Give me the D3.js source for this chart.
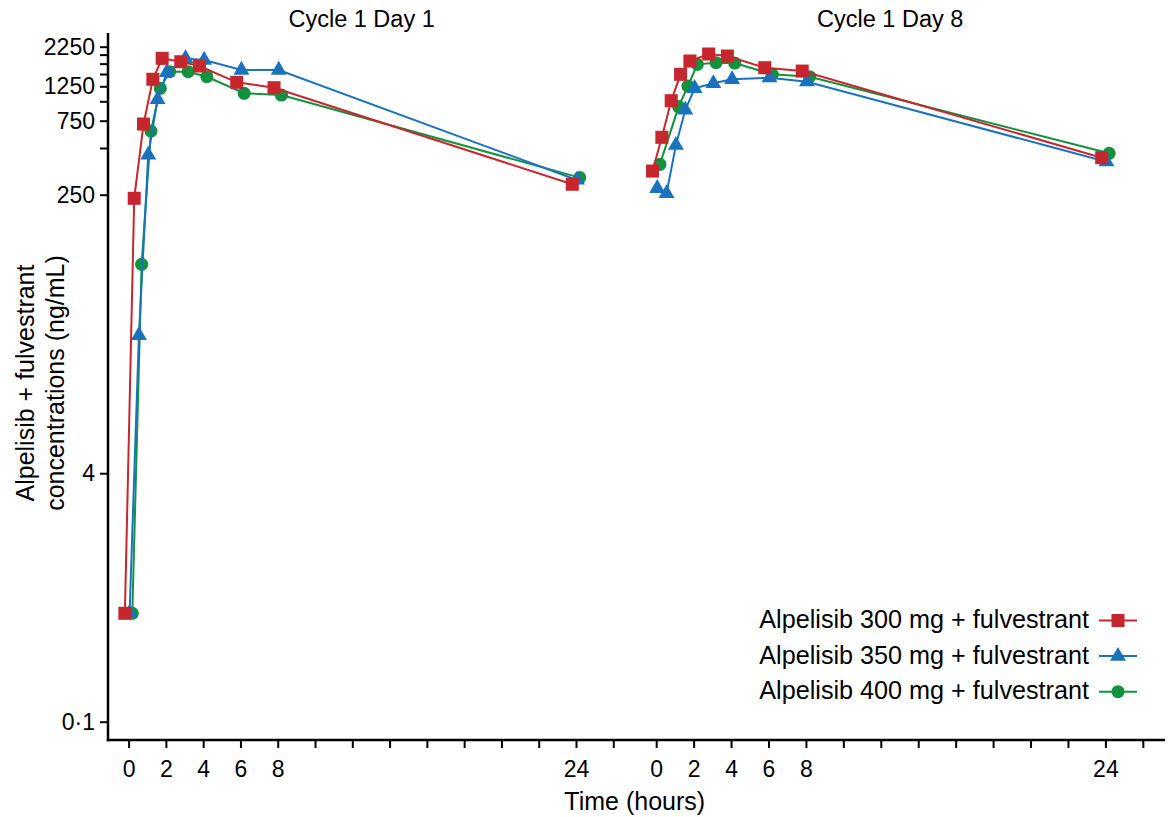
<!DOCTYPE html>
<html><head><meta charset="utf-8">
<script src="https://cdn.jsdelivr.net/npm/d3@7"></script>
<style>body{margin:0;background:#fff}svg{display:block;font-family:"Liberation Sans",Arial,sans-serif}</style>
</head><body><svg id="c" width="1169" height="817"></svg>
<script>
// ---------- data ----------
const times = [0, 0.5, 1, 1.5, 2, 3, 4, 6, 8, 24];
const seriesNames = ["Alpelisib 300 mg + fulvestrant", "Alpelisib 350 mg + fulvestrant", "Alpelisib 400 mg + fulvestrant"];
const panelTitles = ["Cycle 1 Day 1", "Cycle 1 Day 8"];
// Cycle 1 Day 1 (ng/mL)
const day1_300 = [0.5, 237, 714, 1387, 1893, 1800, 1690, 1326, 1224, 292];
const day1_350 = [0.5, 31, 451, 1030, 1538, 1890, 1846, 1591, 1591, 311];
const day1_400 = [0.5, 89, 643, 1213, 1552, 1552, 1441, 1127, 1098, 322];
// Cycle 1 Day 8 (ng/mL); null = no sample
const day8_300 = [355, 586, 1009, 1493, 1819, 2018, 1959, 1647, 1567, 433];
const day8_350 = [275, 255, 522, 879, 1213, 1306, 1386, 1419, 1338, 408];
const day8_400 = [392, null, 925, 1255, 1732, 1774, 1765, 1493, 1441, 462];
const xTickValues = [0, 2, 4, 6, 8, 10, 12, 14, 16, 18, 20, 22, 24, 26];
const xTickLabels = ["0", "2", "4", "6", "8", "", "", "", "", "", "", "", "24", ""];
const yTickValues = [0.1, 4, 250, 500, 750, 1000, 1250, 1500, 1750, 2000, 2250];
const yTickLabels = ["0·1", "4", "250", "", "750", "", "1250", "", "", "", "2250"];

// ---------- style ----------
const colors = ["#C6262E", "#1A72BD", "#12923F"];
const symbols = [d3.symbolSquare, d3.symbolTriangle, d3.symbolCircle];
const symSizes = [170, 110, 135];
const dodge = [-3.7, 1, 3.7];

const svg = d3.select("#c");
const y = d3.scaleLog().domain([0.1, 2250]).range([721.7, 46.7]);
const xs = [
  d3.scaleLinear().domain([0, 24]).range([128.6, 576]),
  d3.scaleLinear().domain([0, 24]).range([656.2, 1105.4])
];
const axisY = 740, axisX = 108;
const panels = [[day1_300, day1_350, day1_400], [day8_300, day8_350, day8_400]];

// axes
const yAx = svg.append("g").attr("transform", `translate(${axisX},0)`)
  .call(d3.axisLeft(y).tickValues(yTickValues).tickFormat((d, i) => yTickLabels[i]).tickSize(8).tickPadding(5));
yAx.select(".domain").remove();
yAx.selectAll("line").attr("stroke", "#000").attr("stroke-width", 2);
yAx.selectAll("text").attr("font-size", 23).attr("fill", "#000").attr("font-family", "Liberation Sans, Arial, sans-serif");

xs.forEach((x, p) => {
  const g = svg.append("g").attr("transform", `translate(0,${axisY})`)
    .call(d3.axisBottom(x).tickValues(xTickValues).tickFormat((d, i) => xTickLabels[i]).tickSize(8).tickPadding(12.5));
  g.select(".domain").remove();
  g.selectAll("line").attr("stroke", "#000").attr("stroke-width", 2);
  g.selectAll("text").attr("font-size", 23).attr("fill", "#000").attr("font-family", "Liberation Sans, Arial, sans-serif");
  svg.append("text").attr("x", x(12.5)).attr("y", 27).attr("text-anchor", "middle")
    .attr("font-size", 23.5).text(panelTitles[p]);
});
svg.append("line").attr("x1", axisX).attr("x2", axisX).attr("y1", 33).attr("y2", axisY + 1.2)
  .attr("stroke", "#000").attr("stroke-width", 2.5);
svg.append("line").attr("x1", axisX - 1.2).attr("x2", 1165).attr("y1", axisY).attr("y2", axisY)
  .attr("stroke", "#000").attr("stroke-width", 2.5);

// axis titles
svg.append("text").attr("x", (xs[0](26) + xs[1](0)) / 2).attr("y", 810).attr("text-anchor", "middle")
  .attr("font-size", 25).text("Time (hours)");
const yt = svg.append("text").attr("transform", "translate(34,383) rotate(-90)").attr("text-anchor", "middle").attr("font-size", 25);
yt.append("tspan").attr("x", 0).attr("y", 0).text("Alpelisib + fulvestrant");
yt.append("tspan").attr("x", 0).attr("y", 30).text("concentrations (ng/mL)");

// series (draw green, blue, red so red is on top)
const order = [2, 1, 0];
panels.forEach((series, p) => {
  const x = xs[p];
  order.forEach(s => {
    const pts = times.map((t, i) => ({t, v: series[s][i]})).filter(d => d.v != null);
    const line = d3.line().x(d => x(d.t) + dodge[s]).y(d => y(d.v));
    svg.append("path").attr("d", line(pts)).attr("fill", "none").attr("stroke", colors[s]).attr("stroke-width", 2);
    svg.append("g").selectAll("path").data(pts).join("path")
      .attr("transform", d => `translate(${x(d.t) + dodge[s]},${y(d.v)})`)
      .attr("d", d3.symbol().type(symbols[s]).size(symSizes[s]))
      .attr("fill", colors[s]);
  });
});

// legend
const lg = svg.append("g");
seriesNames.forEach((name, i) => {
  const cy = 620.5 + i * 35.6;
  lg.append("text").attr("x", 1089).attr("y", cy + 7.5).attr("text-anchor", "end").attr("font-size", 25.2).text(name);
  lg.append("line").attr("x1", 1099).attr("x2", 1137).attr("y1", cy).attr("y2", cy).attr("stroke", colors[i]).attr("stroke-width", 2);
  lg.append("path").attr("transform", `translate(1118,${cy})`).attr("d", d3.symbol().type(symbols[i]).size(symSizes[i])).attr("fill", colors[i]);
});
</script></body></html>
